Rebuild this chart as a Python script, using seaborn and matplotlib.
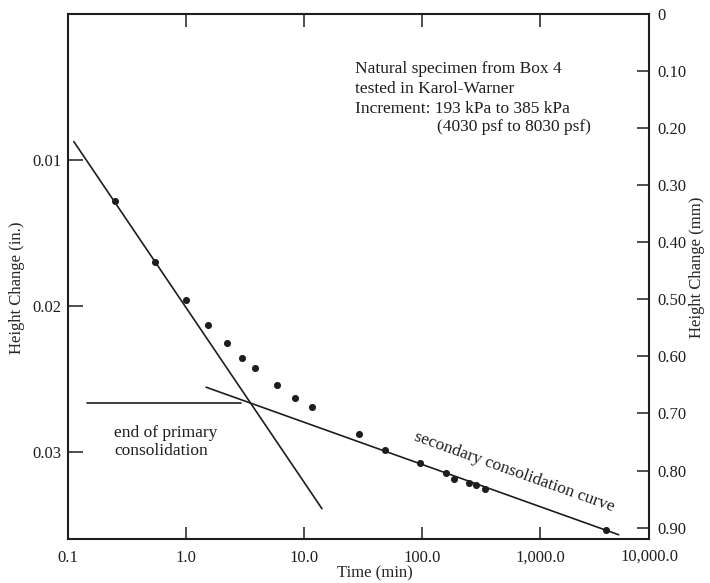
import numpy as np
import pandas as pd
import matplotlib
matplotlib.use("Agg")
import matplotlib.pyplot as plt
import seaborn as sns

# ---- data ----
time_min = [0.25, 0.55, 1.0, 1.54, 2.21, 3.0, 3.86, 5.87, 8.43, 11.6,
            29.0, 48.3, 97.0, 160.0, 188.0, 248.0, 288.0, 343.0, 3630.0]
height_in = [0.01281, 0.01699, 0.01960, 0.02130, 0.02258, 0.02361, 0.02427,
             0.02543, 0.02630, 0.02697, 0.02882, 0.02993, 0.03080, 0.03146,
             0.03190, 0.03217, 0.03233, 0.03255, 0.03536]

primary_t = [0.112, 14.2]
primary_h = [0.008747, 0.03392]
secondary_t = [1.48, 4650.0]
secondary_h = [0.02559, 0.03571]
eop_t = [0.146, 2.92]
eop_h = [0.02669, 0.02669]

x_ticks = [0.1, 1.0, 10.0, 100.0, 1000.0]
x_tick_labels = ["0.1", "1.0", "10.0", "100.0", "1,000.0"]
x_last_label = "10,000.0"
yl_ticks = [0.01, 0.02, 0.03]
yl_tick_labels = ["0.01", "0.02", "0.03"]
yr_ticks = [0.0, 0.1, 0.2, 0.3, 0.4, 0.5, 0.6, 0.7, 0.8, 0.9]
yr_tick_labels = ["0", "0.10", "0.20", "0.30", "0.40", "0.50", "0.60", "0.70", "0.80", "0.90"]

note_lines = "Natural specimen from Box 4\ntested in Karol-Warner\nIncrement: 193 kPa to 385 kPa"
note_last = "(4030 psf to 8030 psf)"

# ---- style ----
sns.set_theme(style="ticks")
plt.rcParams["font.family"] = ["Liberation Serif", "DejaVu Serif"]
plt.rcParams["font.size"] = 12
INK = "#1e1e1e"
plt.rcParams["text.color"] = INK

fig = plt.figure(figsize=(7.10, 5.83), dpi=100)
ax = fig.add_axes([68 / 710, 1 - 539 / 583, 581 / 710, 525 / 583])

pts = pd.DataFrame({"t": time_min, "h": height_in})
sns.scatterplot(data=pts, x="t", y="h", ax=ax, s=26, color=INK, edgecolor=INK,
                linewidth=0, zorder=3)

for tt, hh in [(primary_t, primary_h), (secondary_t, secondary_h), (eop_t, eop_h)]:
    sns.lineplot(x=tt, y=hh, ax=ax, color=INK, linewidth=1.2, sort=False,
                 estimator=None, zorder=2)

ax.set_xscale("log")
ax.set_xlim(0.1, 8400)
ax.set_ylim(0.036, 0.0)

ax.set_xticks(x_ticks)
ax.set_xticklabels(x_tick_labels)
ax.xaxis.set_minor_locator(matplotlib.ticker.NullLocator())
ax.set_yticks(yl_ticks)
ax.set_yticklabels(yl_tick_labels)
ax.tick_params(axis="x", which="major", direction="in", length=9, width=1.1,
               top=True, bottom=True, labelsize=12, pad=8, colors=INK)
ax.tick_params(axis="y", which="major", direction="in", length=11, width=1.1,
               left=True, right=False, labelsize=12, pad=5, colors=INK)
for sp in ax.spines.values():
    sp.set_visible(True)
    sp.set_linewidth(1.5)
    sp.set_color(INK)

ax.text(1.0, -0.034, x_last_label, transform=ax.transAxes, ha="center",
        va="center", fontsize=12)

ax.set_xlabel("Time (min)", fontsize=12)
ax.xaxis.set_label_coords(0.5275, -0.065)
ax.xaxis.label.set_va("center")
ax.set_ylabel("Height Change (in.)", fontsize=12)
ax.yaxis.set_label_coords(-0.088, 0.478)
ax.yaxis.label.set_va("center")

ax2 = ax.twinx()
ax2.set_ylim(0.92, 0.0)
ax2.set_yticks(yr_ticks)
ax2.set_yticklabels(yr_tick_labels)
ax2.tick_params(axis="y", direction="in", length=9, width=1.1, right=True,
                left=False, labelsize=12, pad=6, colors=INK)
ax2.set_ylabel("Height Change (mm)", fontsize=12)
ax2.yaxis.set_label_coords(1.082, 0.518)
ax2.yaxis.label.set_va("center")
for sp in ax2.spines.values():
    sp.set_visible(False)

# annotations
ax.text(0.494, 0.857, note_lines, transform=ax.transAxes, ha="left",
        va="center", fontsize=12.5, linespacing=1.3)
ax.text(0.635, 0.784, note_last, transform=ax.transAxes, ha="left",
        va="center", fontsize=12.5)

ax.text(0.245, 0.02935, "end of primary\nconsolidation", ha="left",
        va="center", fontsize=12.5, linespacing=1.15)

p1 = ax.transData.transform((secondary_t[0], secondary_h[0]))
p2 = ax.transData.transform((secondary_t[1], secondary_h[1]))
ang = np.degrees(np.arctan2(p2[1] - p1[1], p2[0] - p1[0]))
ax.text(603, 0.0314, "secondary consolidation curve", ha="center",
        va="center", rotation=ang, rotation_mode="anchor", fontsize=12.5)

fig.savefig("out.png", dpi=100)
